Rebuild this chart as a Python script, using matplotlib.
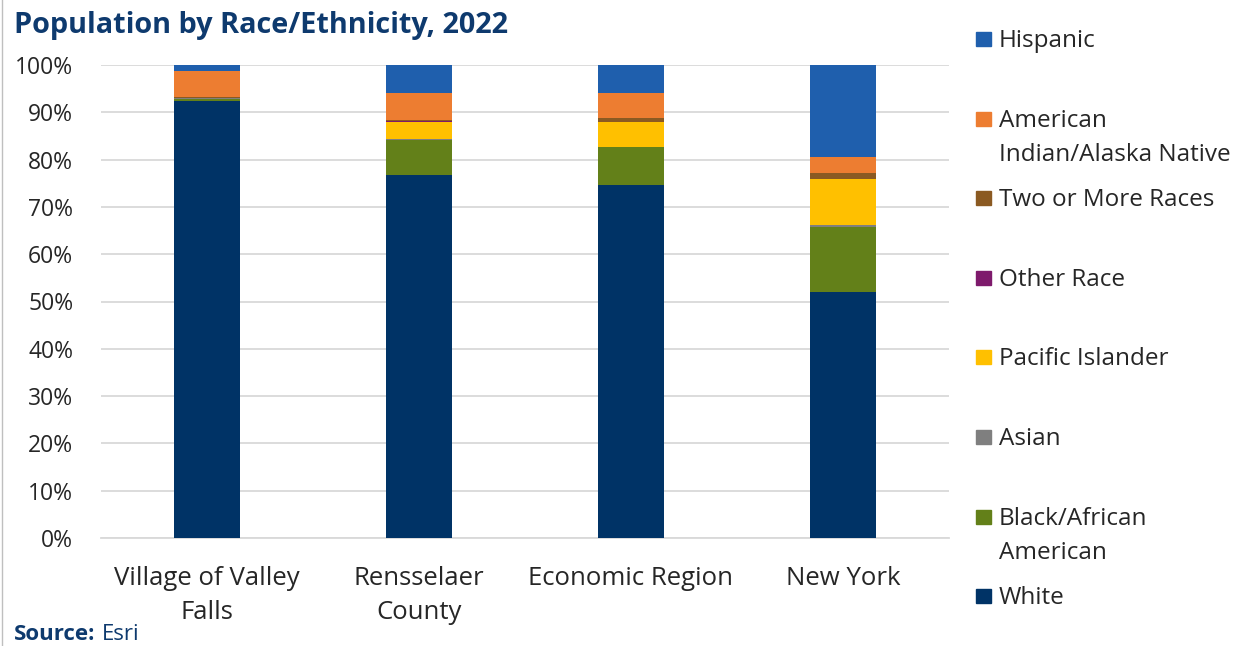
import numpy as np
import matplotlib.pyplot as plt
from matplotlib.patches import Rectangle
from matplotlib.lines import Line2D

plt.rcParams["font.family"] = ["Open Sans", "DejaVu Sans"]

CATEGORIES = ["Village of Valley\nFalls", "Rensselaer\nCounty", "Economic Region", "New York"]

# stacked shares in percent, bottom to top
SERIES = ["White", "Black/African\nAmerican", "Asian", "Pacific Islander",
          "Other Race", "Two or More Races", "American\nIndian/Alaska Native", "Hispanic"]
WHITE = [92.4, 76.7, 74.6, 52.0]
BLACK = [0.5, 7.5, 8.0, 13.8]
ASIAN = [0.1, 0.1, 0.1, 0.3]
PACIFIC = [0.0, 3.7, 5.2, 9.8]
OTHER = [0.0, 0.1, 0.1, 0.1]
TWO_MORE = [0.2, 0.3, 0.8, 1.1]
AM_INDIAN = [5.5, 5.7, 5.3, 3.4]
HISPANIC = [1.3, 5.9, 5.9, 19.5]

COLORS = ["#003366", "#638019", "#7f7f7f", "#ffc000",
          "#7e1a6c", "#8b5a22", "#ed7d31", "#1f5fad"]

values = [WHITE, BLACK, ASIAN, PACIFIC, OTHER, TWO_MORE, AM_INDIAN, HISPANIC]

W, H = 1243, 646
TEXT = "#262626"
NAVY = "#0e3a6e"

fig = plt.figure(figsize=(W / 100, H / 100), dpi=100)
ax = fig.add_axes([101 / W, 1 - 538 / H, 848 / W, 473 / H])

x = np.arange(len(CATEGORIES))
bottom = np.zeros(len(CATEGORIES))
for vals, color in zip(values, COLORS):
    vals = np.array(vals)
    ax.bar(x, vals, width=0.316, bottom=bottom, color=color, zorder=3)
    bottom += vals

ax.set_xlim(-0.5, len(CATEGORIES) - 0.5)
ax.set_ylim(0, 100)
ax.set_yticks(np.arange(0, 101, 10))
ax.set_yticklabels([f"{v}%" for v in range(0, 101, 10)])
ax.set_xticks(x)
ax.set_xticklabels(CATEGORIES, fontsize=18.5, color=TEXT, linespacing=1.5)
ax.tick_params(axis="y", labelsize=16.5, colors=TEXT, length=0, pad=20)
ax.tick_params(axis="x", length=0, pad=20)
ax.grid(axis="y", color="#d9d9d9", linewidth=1.3, zorder=0)
for side in ["top", "right", "left"]:
    ax.spines[side].set_visible(False)
ax.spines["bottom"].set_color("#d9d9d9")
ax.spines["bottom"].set_linewidth(1.3)

# legend on the right, top entry first; markers sit on the first text line
legend_y = [39, 119, 198, 278, 357, 437, 517, 596]
for label, color, ypx in zip(SERIES[::-1], COLORS[::-1], legend_y):
    fig.add_artist(Rectangle((976 / W, 1 - (ypx + 7) / H), 15 / W, 14 / H,
                             transform=fig.transFigure, color=color))
    for i, line in enumerate(label.split("\n")):
        fig.text(999 / W, 1 - (ypx + 8 + 34 * i) / H, line, fontsize=17.5,
                 color=TEXT, va="baseline", ha="left")

fig.text(14 / W, 1 - 25 / H, "Population by Race/Ethnicity, 2022", fontsize=20.8,
         fontweight="bold", color=NAVY, va="center", ha="left")
fig.text(14 / W, 1 - 635 / H, "Source:", fontsize=16, fontweight="bold",
         color=NAVY, va="center", ha="left")
fig.text(102 / W, 1 - 635 / H, "Esri", fontsize=16, color=NAVY,
         va="center", ha="left")

fig.add_artist(Line2D([1.5 / W, 1.5 / W], [0, 1], transform=fig.transFigure,
                      color="#bfbfbf", linewidth=1))

fig.savefig("out.png", dpi=100)
